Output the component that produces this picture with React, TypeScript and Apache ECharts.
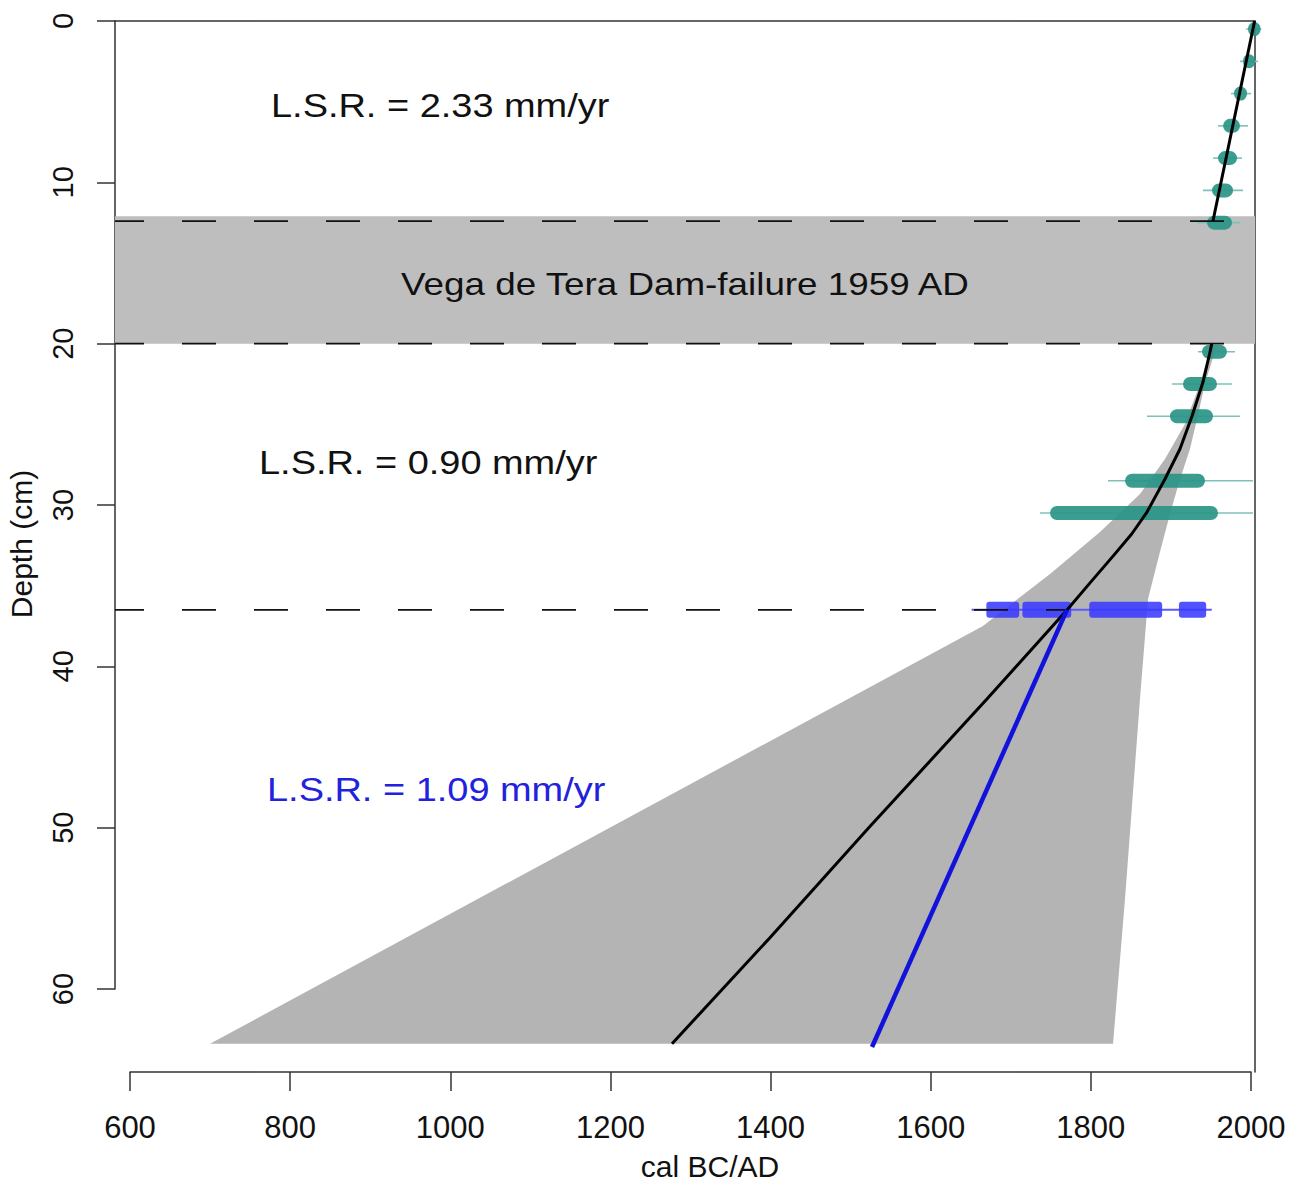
import React, { useEffect, useRef } from "react";
import * as echarts from "echarts";

// ---- axis ranges / ticks ----
const xTickMin = 600;
const xTickMax = 2000;
const xTickStep = 200;
const yTickMin = 0;
const yTickMax = 60;
const yTickStep = 10;
const xPlotMin = 581.3;
const xPlotMax = 2005;
const yPlotMax = 65.15;

// ---- age-depth model (mean) ----
const modelUpperDepth = [0, 12.4];
const modelUpperYear = [2004.5, 1952.5];
const modelLowerDepth = [20.0, 20.52, 22.38, 24.49, 26.53, 28.39, 30.44, 31.8, 33.17, 34.8, 36.51, 42.0, 50.0, 56.9, 63.4];
const modelLowerYear = [1951.0, 1948.8, 1940.1, 1926.4, 1911.3, 1892.6, 1870.1, 1851.0, 1827.7, 1799.5, 1770.2, 1670.8, 1522.9, 1397.8, 1276.9];

// ---- linear sedimentation rate line (blue) ----
const blueLineDepth = [36.5, 63.6];
const blueLineYear = [1770.2, 1526.7];

// ---- confidence envelope ----
const envLeftDepth = [20.0, 20.46, 22.82, 24.98, 27.15, 29.32, 31.68, 34.28, 37.5, 63.4];
const envLeftYear = [1952.5, 1948.8, 1933.8, 1917.6, 1892.6, 1861.4, 1811.4, 1749.0, 1665.3, 699.9];
const envRightDepth = [20.46, 22.45, 24.43, 26.53, 28.4, 30.56, 32.92, 35.83, 42.0, 54.4, 63.4];
const envRightYear = [1955.1, 1942.6, 1933.8, 1923.8, 1911.3, 1898.8, 1886.3, 1871.4, 1861.4, 1842.7, 1827.7];

// ---- dated samples (teal) ----
const tealDepth = [0.5, 2.5, 4.5, 6.5, 8.5, 10.5, 12.5, 20.5, 22.5, 24.5, 28.5, 30.5];
const tealBodyLo = [1996.3, 1990.1, 1978.8, 1965.1, 1958.8, 1951.3, 1945.1, 1938.8, 1915.1, 1898.8, 1842.7, 1749.0];
const tealBodyHi = [2012.0, 2005.0, 1995.0, 1986.3, 1982.6, 1977.6, 1976.3, 1970.0, 1957.5, 1952.5, 1942.6, 1958.8];
const tealRangeLo = [1994.0, 1986.3, 1975.1, 1958.8, 1952.5, 1940.1, 1932.6, 1933.8, 1901.3, 1870.1, 1821.4, 1736.5];
const tealRangeHi = [2013.0, 2008.8, 2000.0, 1996.3, 1988.8, 1990.1, 1986.3, 1980.0, 1976.3, 1986.3, 2002.5, 2002.5];

// ---- radiocarbon sample (blue) ----
const blueDateDepth = 36.5;
const blueDateRange = [1651, 1951];
const blueSegLo = [1669.5, 1714.5, 1798.0, 1910.0];
const blueSegHi = [1710.5, 1775.5, 1889.0, 1944.0];

// ---- event layer & reference depths ----
const bandTop = 12.1;
const bandBottom = 20.0;
const dashDepthsUpper = [12.4, 20.0];
const dashDepthLower = 36.5;
const dashLowerEndYear = 1770.2;

const FONT = "'Liberation Sans', Arial, Helvetica, sans-serif";

export default function App() {
  const ref = useRef<HTMLDivElement>(null);

  useEffect(() => {
    const chart = echarts.init(ref.current!, null, { renderer: "svg" });

    const dashLine = (d: number, endYear: number) => ({
      type: "line",
      xAxisIndex: 0,
      yAxisIndex: 0,
      data: [
        [xPlotMin, d],
        [endYear, d],
      ],
      symbol: "none",
      silent: true,
      lineStyle: { color: "#111", width: 1.8, type: [34, 38], dashOffset: 5 },
    });

    const option: any = {
      animation: false,
      backgroundColor: "#ffffff",
      grid: [
        { left: 115, right: 39, top: 21, bottom: 112 },
        { left: 130, right: 43, top: 21, bottom: 195 },
      ],
      xAxis: [
        {
          gridIndex: 0,
          type: "value",
          min: xPlotMin,
          max: xPlotMax,
          show: false,
        },
        {
          gridIndex: 0,
          type: "value",
          position: "top",
          min: xPlotMin,
          max: xPlotMax,
          axisLine: { show: true, onZero: false, lineStyle: { color: "#333", width: 1.5 } },
          axisTick: { show: false },
          axisLabel: { show: false },
          splitLine: { show: false },
        },
        {
          gridIndex: 1,
          type: "value",
          position: "bottom",
          offset: 83,
          min: xTickMin,
          max: xTickMax,
          interval: xTickStep,
          axisLine: { show: true, onZero: false, lineStyle: { color: "#333", width: 1.5 } },
          axisTick: { show: true, length: 19, lineStyle: { color: "#333", width: 1.5 } },
          axisLabel: {
            show: true,
            fontSize: 31,
            fontFamily: FONT,
            color: "#111",
            margin: 40,
            formatter: (v: number) => String(v),
          },
          splitLine: { show: false },
        },
      ],
      yAxis: [
        {
          gridIndex: 0,
          type: "value",
          min: 0,
          max: yPlotMax,
          inverse: true,
          show: false,
        },
        {
          gridIndex: 0,
          type: "value",
          position: "right",
          min: 0,
          max: yPlotMax,
          inverse: true,
          axisLine: { show: true, onZero: false, lineStyle: { color: "#333", width: 1.5 } },
          axisTick: { show: false },
          axisLabel: { show: false },
          splitLine: { show: false },
        },
        {
          gridIndex: 1,
          type: "value",
          position: "left",
          offset: 15,
          min: yTickMin,
          max: yTickMax,
          interval: yTickStep,
          inverse: true,
          axisLine: { show: true, onZero: false, lineStyle: { color: "#333", width: 1.5 } },
          axisTick: { show: true, length: 18, lineStyle: { color: "#333", width: 1.5 } },
          axisLabel: {
            show: true,
            rotate: 90,
            fontSize: 29,
            fontFamily: FONT,
            color: "#111",
            margin: 38,
            formatter: (v: number) => String(v),
          },
          splitLine: { show: false },
        },
      ],
      series: [
        dashLine(dashDepthLower, dashLowerEndYear),
        {
          type: "custom",
          xAxisIndex: 0,
          yAxisIndex: 0,
          data: [[envLeftYear[0], envLeftDepth[0]]],
          silent: true,
          renderItem: (_p: any, api: any) => {
            const pts: number[][] = [];
            for (let i = 0; i < envLeftYear.length; i++) pts.push(api.coord([envLeftYear[i], envLeftDepth[i]]));
            for (let i = envRightYear.length - 1; i >= 0; i--) pts.push(api.coord([envRightYear[i], envRightDepth[i]]));
            return { type: "polygon", shape: { points: pts }, style: { fill: "#b4b4b4" } };
          },
        },
        {
          type: "custom",
          xAxisIndex: 0,
          yAxisIndex: 0,
          data: [[xPlotMin, bandTop, xPlotMax, bandBottom]],
          silent: true,
          renderItem: (_p: any, api: any) => {
            const a = api.coord([api.value(0), api.value(1)]);
            const b = api.coord([api.value(2), api.value(3)]);
            return {
              type: "rect",
              shape: { x: a[0], y: a[1], width: b[0] - a[0], height: b[1] - a[1] },
              style: { fill: "#bebebe" },
            };
          },
        },
        ...dashDepthsUpper.map((d) => dashLine(d, xPlotMax)),
        {
          type: "custom",
          xAxisIndex: 0,
          yAxisIndex: 0,
          clip: false,
          silent: true,
          data: blueSegLo.map((lo, i) => [lo, blueDateDepth, blueSegHi[i], blueDateRange[0], blueDateRange[1]]),
          encode: { x: [0, 2], y: 1 },
          renderItem: (p: any, api: any) => {
            const d = api.value(1);
            const a = api.coord([api.value(0), d]);
            const b = api.coord([api.value(2), d]);
            const children: any[] = [];
            if (p.dataIndex === 0) {
              const w1 = api.coord([api.value(3), d]);
              const w2 = api.coord([api.value(4), d]);
              children.push({
                type: "line",
                shape: { x1: w1[0], y1: w1[1], x2: w2[0], y2: w2[1] },
                style: { stroke: "#5a5aff", lineWidth: 2 },
              });
            }
            children.push({
              type: "rect",
              shape: { x: a[0], y: a[1] - 8, width: b[0] - a[0], height: 16, r: 3 },
              style: { fill: "#3a3aff", opacity: 0.88 },
            });
            return { type: "group", children };
          },
        },
        {
          type: "line",
          xAxisIndex: 0,
          yAxisIndex: 0,
          data: modelUpperYear.map((y, i) => [y, modelUpperDepth[i]]),
          symbol: "none",
          silent: true,
          lineStyle: { color: "#000", width: 3 },
        },
        {
          type: "line",
          xAxisIndex: 0,
          yAxisIndex: 0,
          data: modelLowerYear.map((y, i) => [y, modelLowerDepth[i]]),
          symbol: "none",
          smooth: false,
          silent: true,
          lineStyle: { color: "#000", width: 3, join: "round" },
        },
        {
          type: "line",
          xAxisIndex: 0,
          yAxisIndex: 0,
          data: blueLineYear.map((y, i) => [y, blueLineDepth[i]]),
          symbol: "none",
          silent: true,
          lineStyle: { color: "#1212dd", width: 4.5 },
        },
        {
          type: "custom",
          xAxisIndex: 0,
          yAxisIndex: 0,
          clip: false,
          silent: true,
          data: tealDepth.map((d, i) => [tealRangeLo[i], d, tealRangeHi[i], tealBodyLo[i], tealBodyHi[i]]),
          encode: { x: [0, 2], y: 1 },
          renderItem: (_p: any, api: any) => {
            const d = api.value(1);
            const w1 = api.coord([api.value(0), d]);
            const w2 = api.coord([api.value(2), d]);
            const b1 = api.coord([api.value(3), d]);
            const b2 = api.coord([api.value(4), d]);
            return {
              type: "group",
              children: [
                {
                  type: "line",
                  shape: { x1: w1[0], y1: w1[1], x2: w2[0], y2: w2[1] },
                  style: { stroke: "#7cc2b8", lineWidth: 1.6 },
                },
                {
                  type: "rect",
                  shape: { x: b1[0], y: b1[1] - 7, width: b2[0] - b1[0], height: 14, r: 7 },
                  style: { fill: "#2a9587", opacity: 0.92 },
                },
              ],
            };
          },
        },
      ],
      graphic: [
        {
          type: "text",
          z: 100,
          x: 271,
          y: 106,
          scaleX: 1.15,
          style: { text: "L.S.R. = 2.33 mm/yr", fontSize: 33, fontFamily: FONT, fill: "#111", align: "left", verticalAlign: "middle" },
        },
        {
          type: "text",
          z: 100,
          x: 685,
          y: 284,
          scaleX: 1.15,
          style: { text: "Vega de Tera Dam-failure 1959 AD", fontSize: 32, fontFamily: FONT, fill: "#111", align: "center", verticalAlign: "middle" },
        },
        {
          type: "text",
          z: 100,
          x: 259,
          y: 463,
          scaleX: 1.15,
          style: { text: "L.S.R. = 0.90 mm/yr", fontSize: 33, fontFamily: FONT, fill: "#111", align: "left", verticalAlign: "middle" },
        },
        {
          type: "text",
          z: 100,
          x: 267,
          y: 790,
          scaleX: 1.15,
          style: { text: "L.S.R. = 1.09 mm/yr", fontSize: 33, fontFamily: FONT, fill: "#2222dd", align: "left", verticalAlign: "middle" },
        },
        {
          type: "text",
          z: 100,
          x: 710,
          y: 1166,
          style: { text: "cal BC/AD", fontSize: 30, fontFamily: FONT, fill: "#111", align: "center", verticalAlign: "middle" },
        },
        {
          type: "text",
          z: 100,
          x: 21,
          y: 544,
          rotation: Math.PI / 2,
          style: { text: "Depth (cm)", fontSize: 30, fontFamily: FONT, fill: "#111", align: "center", verticalAlign: "middle" },
        },
      ],
    };

    chart.setOption(option);
    return () => chart.dispose();
  }, []);

  return (
    <div
      ref={ref}
      style={{ position: "absolute", left: 0, top: 0, width: 1294, height: 1184, background: "#ffffff" }}
    />
  );
}
